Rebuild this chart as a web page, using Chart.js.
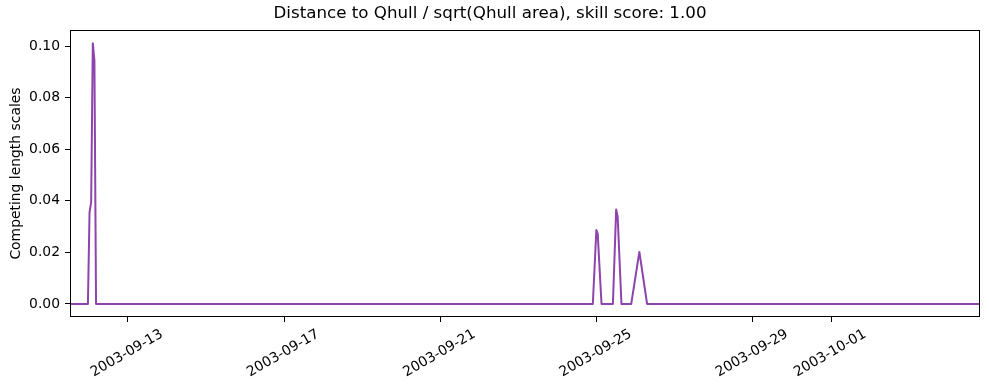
<!DOCTYPE html>
<html>
<head>
<meta charset="utf-8">
<script src="https://cdn.jsdelivr.net/npm/chart.js@4"></script>
<style>
  html, body { margin: 0; padding: 0; background: #fff; }
  #chart { display: block; }
</style>
</head>
<body>
<canvas id="chart" width="989" height="390"></canvas>
<script>
// ============ DATA ============
const TITLE = "Distance to Qhull / sqrt(Qhull area), skill score: 1.00";
const Y_LABEL = "Competing length scales";

// sample times (UTC) and values
const times = [
  "2003-09-11T12:30", "2003-09-11T23:30", "2003-09-12T00:30", "2003-09-12T01:30",
  "2003-09-12T02:30", "2003-09-12T03:30", "2003-09-12T04:30",
  "2003-09-24T21:40", "2003-09-24T23:50", "2003-09-25T00:40", "2003-09-25T03:00",
  "2003-09-25T10:00", "2003-09-25T12:00", "2003-09-25T12:55", "2003-09-25T15:15",
  "2003-09-25T21:15", "2003-09-26T02:15", "2003-09-26T07:00",
  "2003-10-04T19:30"
];
const values = [
  0, 0, 0.0355, 0.0395,
  0.1012, 0.0945, 0,
  0, 0.0287, 0.0272, 0,
  0, 0.0367, 0.0340, 0,
  0, 0.0202, 0,
  0
];

const xTickDates = ["2003-09-13", "2003-09-17", "2003-09-21", "2003-09-25", "2003-09-29", "2003-10-01"];
const yTicks = [0.00, 0.02, 0.04, 0.06, 0.08, 0.10];
const yMin = -0.00506, yMax = 0.1063;

// ============ HELPERS ============
const ms = (s) => Date.parse(s + (s.length > 10 ? ":00Z" : "T00:00:00Z"));
function fmtDate(v) {
  return new Date(v).toISOString().split("T")[0];
}

const FONT = "'DejaVu Sans', sans-serif";
const points = times.map((t, i) => ({ x: ms(t), y: values[i] }));

// full box round the plot, like matplotlib spines
const boxPlugin = {
  id: "box",
  afterDraw(chart) {
    const a = chart.chartArea;
    const ctx = chart.ctx;
    const l = Math.round(a.left) + 0.5, t = Math.round(a.top) + 0.5;
    const r = Math.round(a.right) - 0.5, b = Math.round(a.bottom) - 0.5;
    ctx.save();
    ctx.strokeStyle = "#000";
    ctx.lineWidth = 1;
    ctx.strokeRect(l, t, r - l, b - t);
    ctx.restore();
  }
};

new Chart(document.getElementById("chart").getContext("2d"), {
  type: "line",
  data: {
    datasets: [{
      data: points,
      borderColor: "#8e44ad",
      borderWidth: 2,
      borderJoinStyle: "round",
      pointRadius: 0,
      tension: 0,
      fill: false,
    }]
  },
  options: {
    responsive: false,
    animation: false,
    devicePixelRatio: 1,
    layout: { padding: { left: 0, right: 9, top: 0, bottom: 0 } },
    plugins: {
      legend: { display: false },
      tooltip: { enabled: false },
      title: {
        display: true,
        text: TITLE,
        color: "#000",
        font: { family: FONT, size: 16.7, weight: "normal" },
        padding: { top: 4, bottom: 6 },
      }
    },
    scales: {
      x: {
        type: "linear",
        min: ms(times[0]),
        max: ms(times[times.length - 1]),
        afterBuildTicks: (s) => { s.ticks = xTickDates.map(d => ({ value: ms(d) })); },
        afterFit: (s) => { s.height = 73; },
        border: { display: false },
        grid: { drawOnChartArea: false, drawTicks: true, tickLength: 5, tickColor: "#000", tickWidth: 1 },
        ticks: {
          autoSkip: false,
          minRotation: 30,
          maxRotation: 30,
          padding: 4,
          labelOffset: 34,
          color: "#000",
          font: { family: FONT, size: 13.9 },
          callback: (v) => fmtDate(v),
        }
      },
      y: {
        min: yMin,
        max: yMax,
        afterBuildTicks: (s) => { s.ticks = yTicks.map(v => ({ value: v })); },
        afterFit: (s) => { s.width = 70; },
        border: { display: false },
        grid: { drawOnChartArea: false, drawTicks: true, tickLength: 5, tickColor: "#000", tickWidth: 1 },
        ticks: {
          padding: 5,
          color: "#000",
          font: { family: FONT, size: 13.9 },
          callback: (v) => v.toFixed(2),
        },
        title: {
          display: true,
          text: Y_LABEL,
          color: "#000",
          font: { family: FONT, size: 13.9 },
          padding: { top: 8, bottom: 0 },
        }
      }
    }
  },
  plugins: [boxPlugin]
});
</script>
</body>
</html>
